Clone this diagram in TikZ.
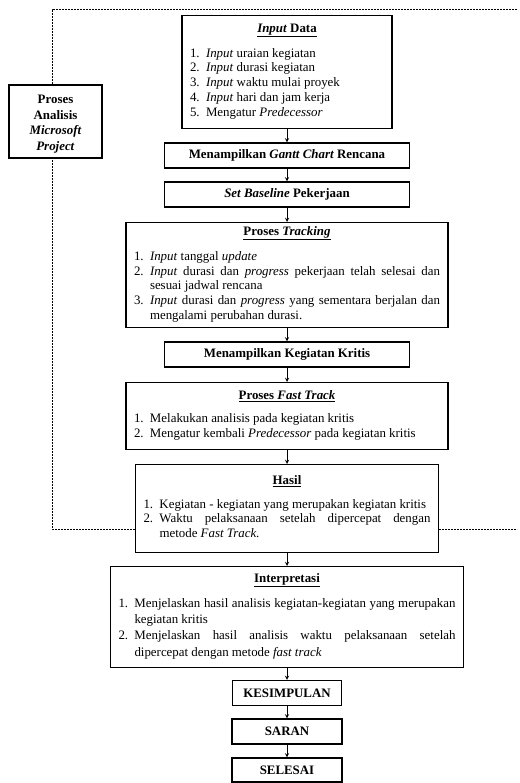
\documentclass[tikz,border=0pt]{standalone}
\usepackage{fontspec}
\setmainfont{Liberation Serif}
\tikzset{>=stealth}
\tikzset{
  kotak/.style = {draw, line width=1.2pt, fill=white, align=center, inner sep=2pt,
    minimum height=25pt, font=\fontsize{12.9}{14.7}\selectfont\bfseries},
  daftar/.style = {draw, line width=1.2pt, fill=white, inner xsep=8pt, inner ysep=3pt,
    align=justify, anchor=north, font=\fontsize{12.9}{14.7}\selectfont},
  panah/.style = {line width=0.9pt, ->},
  putus/.style = {line width=1pt, dash pattern=on 2pt off 1pt}
}
\hyphenpenalty=10000
\exhyphenpenalty=10000
\newcommand{\judul}[1]{\centerline{\underline{\textbf{#1}}}\vspace{9pt}}
\newenvironment{butiran}[1]{\noindent\begin{tabular}[t]{@{}p{16pt}@{}p{#1}@{}}}{\end{tabular}}
\newcommand{\butir}[2]{#1. & #2\\}

\begin{document}
\begin{tikzpicture}[x=1pt, y=-1pt]
    \useasboundingbox (0,0) rectangle (519,783);
    \coordinate (ka) at (52,10);
    \coordinate (kb) at (517,10);
    \coordinate (kc) at (52,529);
    \coordinate (kd) at (517,529);
    \draw [putus] (kb) -- (ka) -- (kc) -- (kd);

    \node [kotak, minimum width=93pt, minimum height=73pt, font=\fontsize{12.9}{15.6}\selectfont\bfseries] (msp) at (55.5,121.5)
        {\rule{0pt}{14pt}Proses\\Analisis\\\textit{Microsoft}\\\textit{Project}};

    \node [daftar, text width=194pt, minimum height=113pt] (input) at (287,15) {%
        \judul{\textit{Input} Data}
        \begin{butiran}{178pt}
        \butir{1}{\textit{Input} uraian kegiatan}
        \butir{2}{\textit{Input} durasi kegiatan}
        \butir{3}{\textit{Input} waktu mulai proyek}
        \butir{4}{\textit{Input} hari dan jam kerja}
        \butir{5}{Mengatur \textit{Predecessor}}
        \end{butiran}};
    \node [kotak, minimum width=245pt] (gantt) at (287,155.5) {Menampilkan \textit{Gantt Chart} Rencana};
    \node [kotak, minimum width=245pt] (baseline) at (287,194.5) {\textit{Set Baseline} Pekerjaan};
    \node [daftar, text width=306pt, minimum height=105pt] (tracking) at (287,222) {%
        \judul{Proses \textit{Tracking}}
        \begin{butiran}{290pt}
        \butir{1}{\textit{Input} tanggal \textit{update}}
        \butir{2}{\textit{Input} durasi dan \textit{progress} pekerjaan telah selesai dan\linebreak sesuai jadwal rencana}
        \butir{3}{\textit{Input} durasi dan \textit{progress} yang sementara berjalan dan\linebreak mengalami perubahan durasi.}
        \end{butiran}};
    \node [kotak, minimum width=245pt] (kritis) at (287,354.5) {Menampilkan Kegiatan Kritis};
    \node [daftar, text width=306pt, minimum height=67pt] (fasttrack) at (287,382) {%
        \judul{Proses \textit{Fast Track}}
        \begin{butiran}{290pt}
        \butir{1}{Melakukan analisis pada kegiatan kritis}
        \butir{2}{Mengatur kembali \textit{Predecessor} pada kegiatan kritis}
        \end{butiran}};
    \node [daftar, text width=287pt, minimum height=88pt] (hasil) at (287,464) {%
        \judul{Hasil}
        \begin{butiran}{271pt}
        \butir{1}{Kegiatan - kegiatan yang merupakan kegiatan kritis}
        \butir{2}{Waktu pelaksanaan setelah dipercepat dengan\linebreak metode \textit{Fast Track}.}
        \end{butiran}};
    \node [daftar, text width=337pt, minimum height=101pt, font=\fontsize{12.9}{16.3}\selectfont] (interpretasi) at (287,566) {%
        \judul{Interpretasi}
        \begin{butiran}{321pt}
        \butir{1}{Menjelaskan hasil analisis kegiatan-kegiatan yang merupakan\linebreak kegiatan kritis}
        \butir{2}{Menjelaskan hasil analisis waktu pelaksanaan setelah\linebreak dipercepat dengan metode \textit{fast track}}
        \end{butiran}};
    \node [kotak, minimum width=109pt] (kesimpulan) at (287,693) {KESIMPULAN};
    \node [kotak, minimum width=110pt] (saran) at (287,731.5) {SARAN};
    \node [kotak, minimum width=110pt, minimum height=24pt] (selesai) at (287,770) {SELESAI};

    \draw [panah] (input) -- (gantt);
    \draw [panah] (gantt) -- (baseline);
    \draw [panah] (baseline) -- (tracking);
    \draw [panah] (tracking) -- (kritis);
    \draw [panah] (kritis) -- (fasttrack);
    \draw [panah] (fasttrack) -- (hasil);
    \draw [panah] (hasil) -- (interpretasi);
    \draw [panah] (interpretasi) -- (kesimpulan);
    \draw [panah] (kesimpulan) -- (saran);
    \draw [panah] (saran) -- (selesai);
\end{tikzpicture}
\end{document}
